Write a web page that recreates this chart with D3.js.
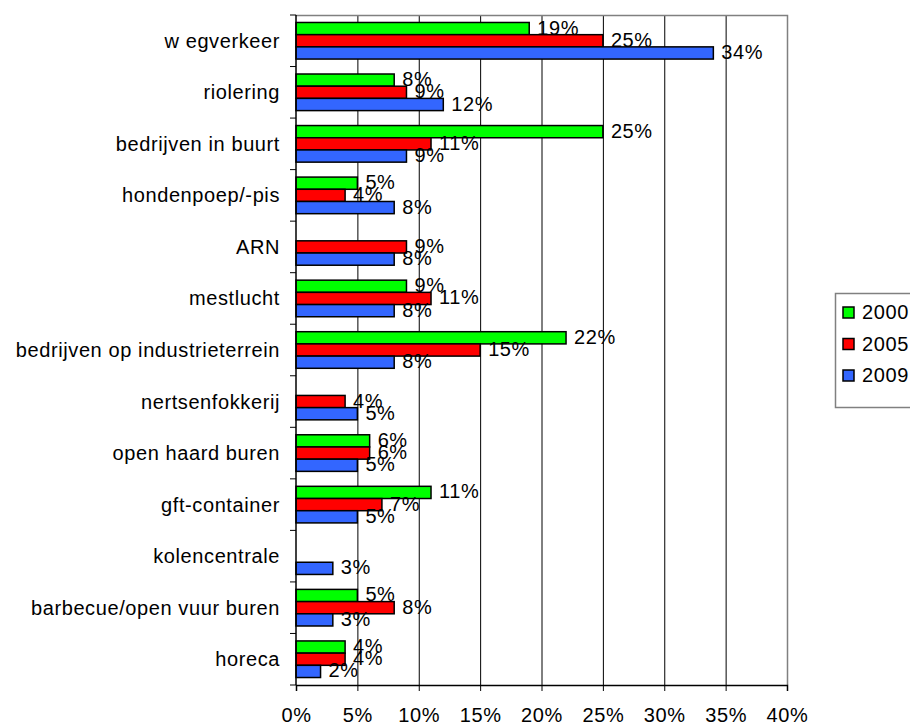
<!DOCTYPE html>
<html><head><meta charset="utf-8">
<script src="https://d3js.org/d3.v7.min.js"></script>
<style>
html,body{margin:0;padding:0;background:#fff;}
svg{display:block;font-family:Arial,"Liberation Sans",sans-serif;}
</style></head>
<body><svg id="c" width="910" height="727"></svg>
<script>
const categories = ["w egverkeer","riolering","bedrijven in buurt","hondenpoep/-pis","ARN","mestlucht","bedrijven op industrieterrein","nertsenfokkerij","open haard buren","gft-container","kolencentrale","barbecue/open vuur buren","horeca"];
const series = ["2000","2005","2009"];
const v2000 = [19,8,25,5,null,9,22,null,6,11,null,5,4];
const v2005 = [25,9,11,4,9,11,15,4,6,7,null,8,4];
const v2009 = [34,12,9,8,8,8,8,5,5,5,3,3,2];
const colors = ["#00FF00","#FF0000","#3366FF"];
const xTicks = [0,5,10,15,20,25,30,35,40];

const values = [v2000, v2005, v2009];
const FS = 20, LS = "0.6px";
const svg = d3.select("#c");
const L = 296, R = 787, T = 15, B = 685;
const x = d3.scaleLinear().domain([0,40]).range([L,R]);
const y = d3.scaleBand().domain(categories).range([T,B]).paddingInner(0.29).paddingOuter(0.145);
const ys = d3.scaleBand().domain(series).range([0,y.bandwidth()]);

// gridlines
svg.append("g").selectAll("line").data(xTicks.slice(1,-1)).join("line")
  .attr("x1",d=>x(d)+0.5).attr("x2",d=>x(d)+0.5).attr("y1",T).attr("y2",B)
  .attr("stroke","#000").attr("stroke-width",1);
// plot border top/right
svg.append("path").attr("d",`M${L},${T+0.5}H${R+0.5}V${B}`).attr("fill","none").attr("stroke","#808080").attr("stroke-width",1.5);

// bars
const data = [];
categories.forEach((c,i)=>series.forEach((s,j)=>{ if(values[j][i]!=null) data.push({c,s,j,v:values[j][i]}); }));
svg.append("g").selectAll("rect").data(data).join("rect")
  .attr("x",x(0)).attr("y",d=>y(d.c)+ys(d.s))
  .attr("width",d=>x(d.v)-x(0)).attr("height",ys.bandwidth())
  .attr("fill",d=>colors[d.j]).attr("stroke","#000").attr("stroke-width",1.5);

// axes
const xAxis = d3.axisBottom(x).tickValues(xTicks).tickFormat(d=>d+"%").tickSize(6).tickPadding(17);
const gx = svg.append("g").attr("transform",`translate(0,${B})`).call(xAxis);
gx.select(".domain").attr("stroke","#000").attr("stroke-width",1.5);
gx.selectAll(".tick line").attr("stroke","#000");
gx.selectAll("text").attr("font-size",FS).attr("fill","#000").attr("letter-spacing",LS).attr("font-family","Arial,'Liberation Sans',sans-serif");

const yBound = d3.scaleLinear().domain([0,categories.length]).range([T,B]);
svg.append("g").selectAll("line").data(d3.range(categories.length+1)).join("line")
  .attr("x1",L-6).attr("x2",L).attr("y1",d=>yBound(d)).attr("y2",d=>yBound(d)).attr("stroke","#000");
svg.append("line").attr("x1",L).attr("x2",L).attr("y1",T).attr("y2",B).attr("stroke","#000").attr("stroke-width",1.5);
svg.append("g").selectAll("text").data(categories).join("text")
  .attr("x",L-16).attr("y",d=>y(d)+y.bandwidth()/2).attr("dy","0.35em")
  .attr("text-anchor","end").attr("font-size",FS).attr("letter-spacing",LS).text(d=>d);

// labels
svg.append("g").selectAll("text").data(data).join("text")
  .attr("x",d=>x(d.v)+8).attr("y",d=>y(d.c)+ys(d.s)+ys.bandwidth()/2-1).attr("dy","0.35em")
  .attr("font-size",FS).attr("letter-spacing",LS).text(d=>d.v+"%");

// legend
const lg = svg.append("g");
lg.append("rect").attr("x",835.5).attr("y",293.5).attr("width",90).attr("height",114).attr("fill","#fff").attr("stroke","#808080").attr("stroke-width",1.5);
const ly = d3.scalePoint().domain(series).range([312,375]);
series.forEach((s,j)=>{
  lg.append("rect").attr("x",843).attr("y",ly(s)-5).attr("width",11).attr("height",11).attr("fill",colors[j]).attr("stroke","#000").attr("stroke-width",1.5);
  lg.append("text").attr("x",862).attr("y",ly(s)).attr("dy","0.35em").attr("font-size",FS).attr("letter-spacing",LS).text(s);
});
</script></body></html>
